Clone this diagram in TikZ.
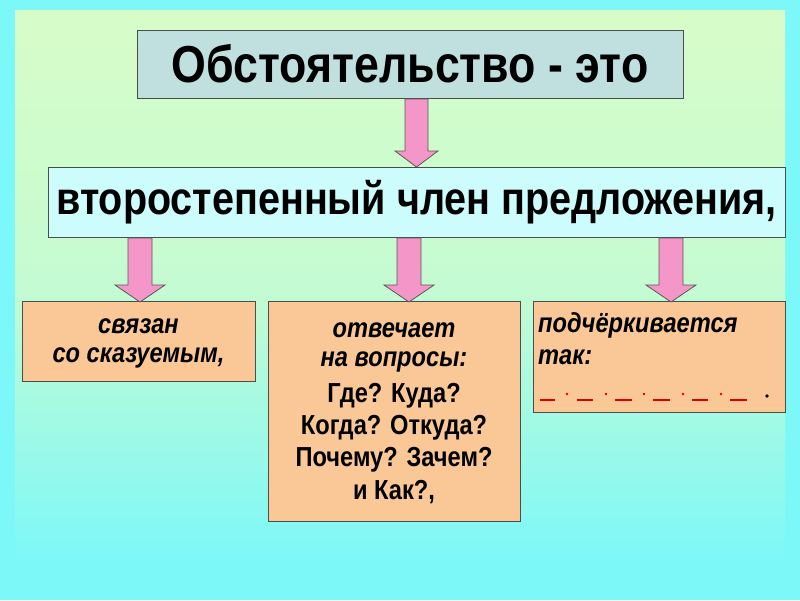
\documentclass[tikz,border=0pt]{standalone}
\usepackage{fontspec}
\setmainfont{Liberation Sans}[FakeStretch=0.86]
\definecolor{bgc}{RGB}{125,248,248}
\definecolor{bgg}{RGB}{215,252,200}
\definecolor{topb}{RGB}{192,224,224}
\definecolor{midb}{RGB}{204,252,252}
\definecolor{orb}{RGB}{250,200,150}
\definecolor{pk}{RGB}{245,150,200}
\begin{document}
\begin{tikzpicture}[x=1pt,y=-1pt,
  box/.style={draw=black!70,line width=0.8pt,inner sep=0pt},
  arr/.style={draw=black!65,fill=pk,line width=0.8pt},
  txt/.style={font=\bfseries\fontsize{27.5}{31}\selectfont,align=center,inner sep=1pt}]
\useasboundingbox (0,0) rectangle (800,600);
\fill[bgc] (0,0) rectangle (800,600);
\shade[top color=bgg,bottom color=bgc,middle color=bgg!80!bgc] (15,10) rectangle (785,560);
\node[box,fill=topb,minimum width=546pt,minimum height=68pt,font=\bfseries\fontsize{52}{56}\selectfont] (t) at (410,64) {Обстоятельство - это};
\node[box,fill=midb,minimum width=737pt,minimum height=70pt,font=\bfseries\fontsize{46}{52}\selectfont] (m) at (416.5,202) {второстепенный член предложения,};
\node[box,fill=orb,minimum width=233pt,minimum height=80pt] (l) at (138.5,341) {};
\node[box,fill=orb,minimum width=252pt,minimum height=220pt] (c) at (394,411) {};
\node[box,fill=orb,minimum width=252pt,minimum height=111pt] (r) at (659,356.5) {};
\draw[arr] (405,99)--(428,99)--(428,151)--(438,151)--(416.5,167)--(395,151)--(405,151)--cycle;
\foreach \cx in {140,409,671}{
  \draw[arr] (\cx-12,238)--(\cx+12,238)--(\cx+12,285)--(\cx+25,285)--(\cx,302)--(\cx-25,285)--(\cx-12,285)--cycle;}
\node[txt] (l1) at (138.5,326) {\itshape связан};
\node[txt] (l2) at (138.5,358) {\itshape со сказуемым,};
\node[txt] (c1) at (394,330) {\itshape отвечает};
\node[txt] (c2) at (394,362) {\itshape на вопросы:};
\node[txt] (c3) at (394,396) {Где? Куда?};
\node[txt] (c4) at (394,428) {Когда? Откуда?};
\node[txt] (c5) at (394,460) {Почему? Зачем?};
\node[txt] (c6) at (394,492) {и Как?,};
\node[txt,anchor=west] (r1) at (537,325) {\itshape подчёркивается};
\node[txt,anchor=west] (r2) at (537,357) {\itshape так:};
\foreach \a/\b in {540/555,577/593,615/632,653/670,692/708,730/747}
  \draw[red!85!black,line width=2.4pt] (\a,400)--(\b,400);
\foreach \d in {567,606,644,683,721}
  \fill[red!85!black] (\d,394) circle (1.3pt);
\fill[black] (767,396) circle (1.8pt);
\end{tikzpicture}
\end{document}
